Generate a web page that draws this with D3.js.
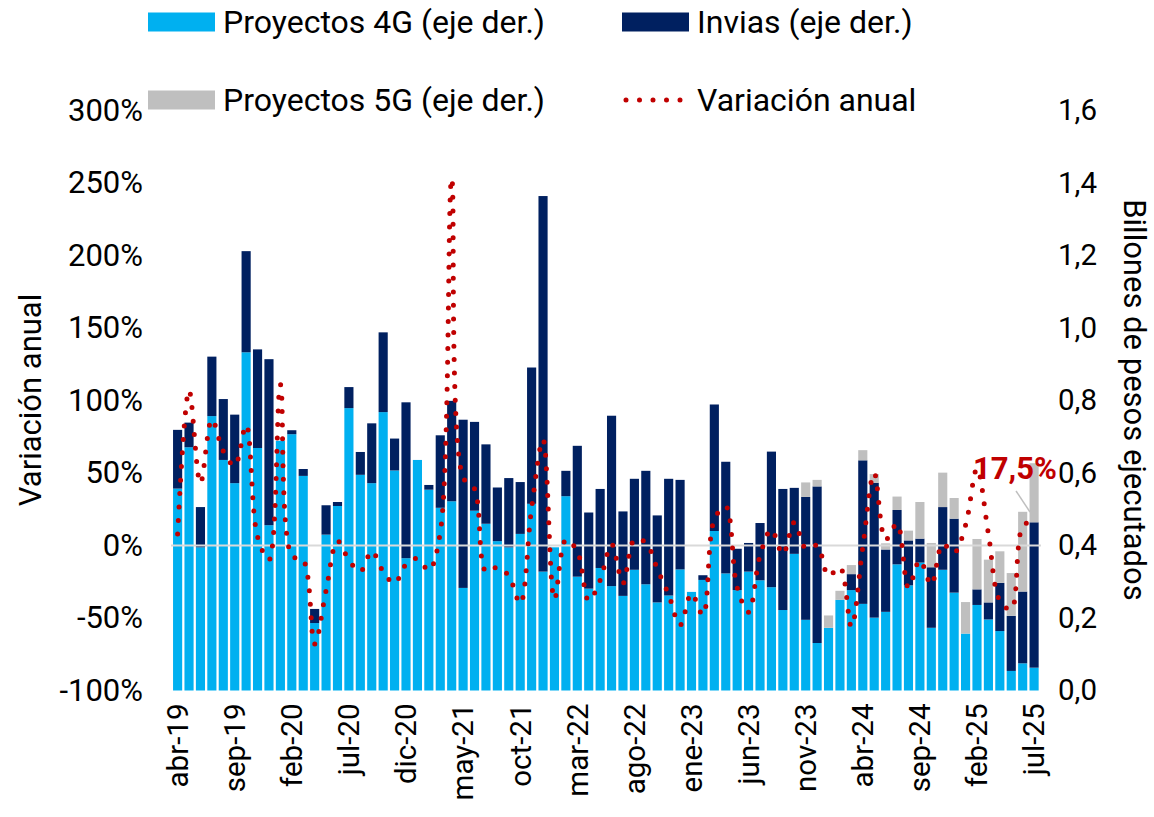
<!DOCTYPE html>
<meta charset="utf-8">
<style>
body { margin: 0; background: #fff; }
svg text { font-family: Roboto, sans-serif; fill: #000; }
</style>
<svg width="1154" height="817"></svg>
<script src="https://d3js.org/d3.v7.min.js"></script>
<script>

const months = [
	'abr-19', 'may-19', 'jun-19', 'jul-19', 'ago-19', 'sep-19', 'oct-19', 'nov-19', 'dic-19',
	'ene-20', 'feb-20', 'mar-20', 'abr-20', 'may-20', 'jun-20', 'jul-20', 'ago-20', 'sep-20', 'oct-20', 'nov-20', 'dic-20',
	'ene-21', 'feb-21', 'mar-21', 'abr-21', 'may-21', 'jun-21', 'jul-21', 'ago-21', 'sep-21', 'oct-21', 'nov-21', 'dic-21',
	'ene-22', 'feb-22', 'mar-22', 'abr-22', 'may-22', 'jun-22', 'jul-22', 'ago-22', 'sep-22', 'oct-22', 'nov-22', 'dic-22',
	'ene-23', 'feb-23', 'mar-23', 'abr-23', 'may-23', 'jun-23', 'jul-23', 'ago-23', 'sep-23', 'oct-23', 'nov-23', 'dic-23',
	'ene-24', 'feb-24', 'mar-24', 'abr-24', 'may-24', 'jun-24', 'jul-24', 'ago-24', 'sep-24', 'oct-24', 'nov-24', 'dic-24',
	'ene-25', 'feb-25', 'mar-25', 'abr-25', 'may-25', 'jun-25', 'jul-25'
];

// billones de pesos
const proyectos4G = [
	0.557, 0.671, 0.395, 0.757, 0.636, 0.572, 0.933, 0.669, 0.456, 0.689,
	0.707, 0.592, 0.186, 0.430, 0.509, 0.779, 0.595, 0.572, 0.768, 0.607,
	0.365, 0.636, 0.554, 0.504, 0.522, 0.283, 0.496, 0.460, 0.412, 0.395,
	0.432, 0.515, 0.328, 0.395, 0.536, 0.314, 0.281, 0.338, 0.288, 0.261,
	0.333, 0.293, 0.243, 0.262, 0.334, 0.272, 0.305, 0.440, 0.323, 0.277,
	0.328, 0.304, 0.285, 0.222, 0.377, 0.195, 0.131, 0.173, 0.250, 0.277,
	0.239, 0.201, 0.217, 0.348, 0.290, 0.353, 0.173, 0.333, 0.270, 0.157,
	0.236, 0.196, 0.164, 0.054, 0.075, 0.063
];
const invias = [
	0.162, 0.068, 0.111, 0.164, 0.168, 0.189, 0.279, 0.272, 0.458, 0,
	0.011, 0.019, 0.039, 0.081, 0.011, 0.058, 0.063, 0.165, 0.220, 0.088,
	0.430, 0, 0.013, 0.200, 0.277, 0.464, 0.245, 0.219, 0.148, 0.191,
	0.143, 0.376, 1.036, 0, 0.070, 0.361, 0.210, 0.218, 0.470, 0.233,
	0.251, 0.313, 0.240, 0.322, 0.247, 0, 0.013, 0.349, 0.308, 0.114,
	0.079, 0.158, 0.374, 0.334, 0.182, 0.339, 0.432, 0, 0, 0.044,
	0.396, 0.372, 0.172, 0.150, 0.124, 0.066, 0.167, 0.173, 0.204, 0,
	0.043, 0.047, 0.133, 0.152, 0.198, 0.401
];
const proyectos5G = [
	0, 0, 0, 0, 0, 0, 0, 0, 0, 0,
	0, 0, 0, 0, 0, 0, 0, 0, 0, 0,
	0, 0, 0, 0, 0, 0, 0, 0, 0, 0,
	0, 0, 0, 0, 0, 0, 0, 0, 0, 0,
	0, 0, 0, 0, 0, 0, 0, 0, 0, 0,
	0, 0, 0, 0, 0, 0.040, 0.018, 0.034, 0.025, 0.025,
	0.028, 0.024, 0.017, 0.037, 0.027, 0.101, 0.067, 0.095, 0.057, 0.087,
	0.139, 0.118, 0.087, 0.118, 0.220, 0.163
];
// variación anual, %
const variacion = [
	8, 107, 43, 87, 65, 55, 83, 6, -10, 111,
	-7, -10, -68, -31, 3, -10, -18, -4, -18, -26,
	-13, -9, -17, 9, 253, 47, 39, -18, -15, -21,
	-40, 26, 73, -37, 4, -4, -38, -24, 1, -26,
	4, 2, -16, -34, -55, -33, -48, 18, 27, -29,
	-46, -7, 11, -6, 16, -2, 0, -21, -15, -56,
	-1, 50, 4, 15, -29, -10, -27, 1, -5, 14,
	53, 8, -38, -44, 13, 17.5
];

const tickMonths = ['abr-19', 'sep-19', 'feb-20', 'jul-20', 'dic-20', 'may-21', 'oct-21', 'mar-22',
	'ago-22', 'ene-23', 'jun-23', 'nov-23', 'abr-24', 'sep-24', 'feb-25', 'jul-25'];
const pctTicks = [-100, -50, 0, 50, 100, 150, 200, 250, 300];
const valTicks = [0, 0.2, 0.4, 0.6, 0.8, 1.0, 1.2, 1.4, 1.6];

const colors = {p4g: '#00b0f0', inv: '#002060', p5g: '#bfbfbf', line: '#c00000'};

const svg = d3.select('svg');

const x = d3.scaleBand()
	.domain(months)
	.range([171.9, 1039.8])
	.paddingInner(0.2)
	.paddingOuter(0.1);

const yL = d3.scaleLinear().domain([-100, 300]).range([690.5, 110.5]);
const yR = d3.scaleLinear().domain([0, 1.6]).range([690.5, 110.5]);

const table = months.map((m, i) => ({m, p4g: proyectos4G[i], inv: invias[i], p5g: proyectos5G[i]}));
const series = d3.stack().keys(['p4g', 'inv', 'p5g'])(table);

svg.append('g')
	.selectAll('g')
	.data(series)
	.join('g')
	.attr('fill', (s) => colors[s.key])
	.selectAll('rect')
	.data((s) => s)
	.join('rect')
	.attr('x', (d) => x(d.data.m))
	.attr('width', x.bandwidth())
	.attr('y', (d) => yR(d[1]))
	.attr('height', (d) => yR(d[0]) - yR(d[1]));

// linea del 0%
svg.append('line')
	.attr('x1', 171)
	.attr('x2', 1041)
	.attr('y1', yL(0))
	.attr('y2', yL(0))
	.attr('stroke', '#d9d9d9')
	.attr('stroke-width', 2);

const line = d3.line()
	.x((d, i) => x(months[i]) + x.bandwidth() / 2)
	.y((d) => yL(d))
	.curve(d3.curveCatmullRom.alpha(0.5));

svg.append('path')
	.datum(variacion)
	.attr('d', line)
	.attr('fill', 'none')
	.attr('stroke', colors.line)
	.attr('stroke-width', 5)
	.attr('stroke-linecap', 'round')
	.attr('stroke-dasharray', '0 13.5');

// ejes
const axL = svg.append('g')
	.attr('transform', 'translate(172,0)')
	.call(d3.axisLeft(yL).tickValues(pctTicks).tickSize(0).tickPadding(29).tickFormat((d) => d + '%'));
const axR = svg.append('g')
	.attr('transform', 'translate(1041,0)')
	.call(d3.axisRight(yR).tickValues(valTicks).tickSize(0).tickPadding(17)
		.tickFormat((d) => d3.format('.1f')(d).replace('.', ',')));
const axX = svg.append('g')
	.attr('transform', 'translate(0,690.5)')
	.call(d3.axisBottom(x).tickValues(tickMonths).tickSize(0));

[[axL, 31], [axR, 29.5], [axX, 29.5]].forEach(([ax, size]) => {
	ax.select('.domain').remove();
	ax.selectAll('text')
		.attr('font-size', size)
		.attr('font-family', 'Roboto, sans-serif')
		.attr('fill', '#000');
});

axX.selectAll('text')
	.attr('text-anchor', 'end')
	.attr('transform', 'rotate(-90)')
	.attr('x', -13)
	.attr('y', 0)
	.attr('dy', '0.35em');

svg.append('text')
	.attr('transform', 'translate(41,400) rotate(-90)')
	.attr('text-anchor', 'middle')
	.attr('font-size', 31)
	.text('Variación anual');

svg.append('text')
	.attr('transform', 'translate(1124,400) rotate(90)')
	.attr('text-anchor', 'middle')
	.attr('font-size', 31)
	.text('Billones de pesos ejecutados');

// etiqueta del ultimo dato
svg.append('line')
	.attr('x1', 1016)
	.attr('y1', 491)
	.attr('x2', 1030)
	.attr('y2', 512)
	.attr('stroke', '#bfbfbf')
	.attr('stroke-width', 1.5);
svg.append('text')
	.attr('x', 973)
	.attr('y', 479)
	.attr('font-size', 31)
	.attr('font-weight', 'bold')
	.style('fill', colors.line)
	.text('17,5%');

// leyenda
const legend = [
	{label: 'Proyectos 4G (eje der.)', key: 'p4g', x: 148, y: 22},
	{label: 'Invias (eje der.)', key: 'inv', x: 622, y: 22},
	{label: 'Proyectos 5G (eje der.)', key: 'p5g', x: 148, y: 100},
	{label: 'Variación anual', key: 'line', x: 622, y: 100}
];

const lg = svg.append('g')
	.selectAll('g')
	.data(legend)
	.join('g')
	.attr('transform', (d) => `translate(${d.x},${d.y})`);

lg.filter((d) => d.key !== 'line')
	.append('rect')
	.attr('x', 0)
	.attr('y', -9.5)
	.attr('width', 67)
	.attr('height', 19)
	.attr('fill', (d) => colors[d.key]);

lg.filter((d) => d.key === 'line')
	.append('line')
	.attr('x1', 4)
	.attr('x2', 62)
	.attr('stroke', colors.line)
	.attr('stroke-width', 5)
	.attr('stroke-linecap', 'round')
	.attr('stroke-dasharray', '0 13.5');

lg.append('text')
	.attr('x', 75)
	.attr('dy', '0.35em')
	.attr('font-size', 32)
	.text((d) => d.label);

</script>
